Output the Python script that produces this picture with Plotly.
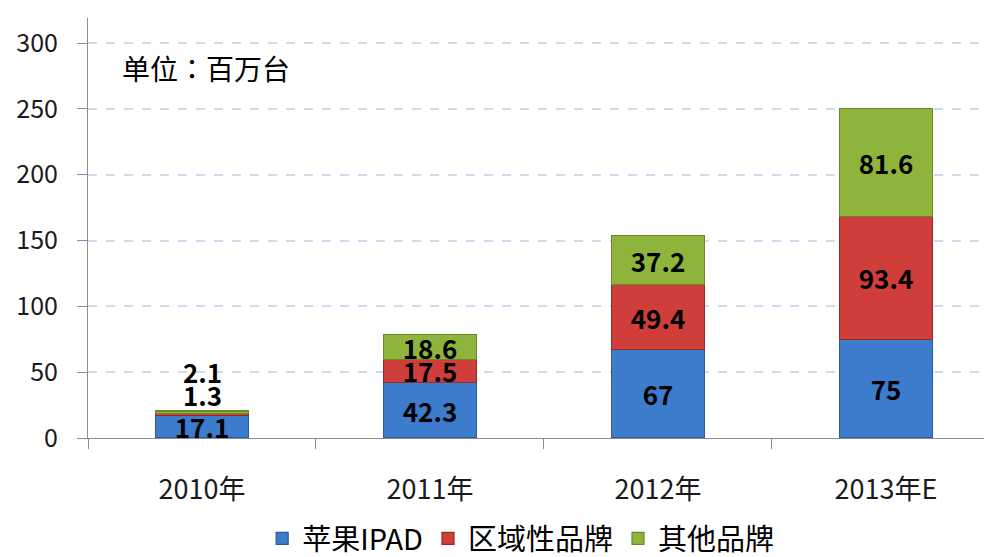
import plotly.graph_objects as go

categories = ["2010年", "2011年", "2012年", "2013年E"]
apple_ipad = [17.1, 42.3, 67, 75]
regional_brands = [1.3, 17.5, 49.4, 93.4]
other_brands = [2.1, 18.6, 37.2, 81.6]
series_names = ["苹果IPAD", "区域性品牌", "其他品牌"]
y_ticks = [0, 50, 100, 150, 200, 250, 300]

FONT = "Noto Sans CJK SC, Noto Sans, sans-serif"
fills = ["#3d7bcc", "#cf3e3a", "#8fb43c"]
edges = ["#2a5a98", "#922a27", "#6a8a2a"]
series = [apple_ipad, regional_brands, other_brands]

fig = go.Figure()
for i, (name, vals) in enumerate(zip(series_names, series)):
    texts = []
    for j, v in enumerate(vals):
        # small 2010 segments are labelled above the bar via annotations
        if j == 0 and i > 0:
            texts.append("")
        else:
            texts.append(f"{v:g}")
    fig.add_trace(go.Bar(
        name=name, x=categories, y=vals,
        width=0.41,
        marker=dict(color=fills[i], line=dict(color=edges[i], width=1.2)),
        text=texts, textposition="inside", insidetextanchor="middle",
        constraintext="none", textangle=0,
        textfont=dict(family=FONT, size=26, color="#000000", weight="bold"),
        hoverinfo="x+y+name",
    ))

total_2010 = apple_ipad[0] + regional_brands[0] + other_brands[0]
for v, shift in [(regional_brands[0], -4), (other_brands[0], 19)]:
    fig.add_annotation(
        x=categories[0], y=total_2010, xref="x", yref="y",
        text=f"<b>{v:g}</b>", showarrow=False, yanchor="bottom",
        yshift=shift,
        font=dict(family=FONT, size=26, color="#000000"),
    )

fig.add_annotation(
    x=0.035, y=0.881, xref="paper", yref="paper", xanchor="left", yanchor="middle",
    text="单位：百万台", showarrow=False,
    font=dict(family="Noto Sans CJK TC, Noto Sans CJK SC, sans-serif", size=28, color="#000000"),
)

# page body has an 8px default margin: figure is sized/offset to compensate
fig.update_layout(
    barmode="stack",
    width=984, height=549,
    margin=dict(l=80, r=0, t=10, b=119),
    paper_bgcolor="white", plot_bgcolor="white",
    showlegend=True,
    legend=dict(orientation="h", x=0.521, xanchor="center", xref="container",
                y=0.08, yanchor="top", yref="container",
                font=dict(family=FONT, size=29, color="#000000"), traceorder="normal"),
    xaxis=dict(
        range=[-0.5, 3.465], showline=True, linecolor="#8c8c8c", linewidth=1,
        ticks="outside", tickson="boundaries", ticklen=10, tickcolor="#8c8c8c",
        ticklabelstandoff=28, automargin=False,
        tickfont=dict(family=FONT, size=27, color="#1a1a1a"),
        showgrid=False,
    ),
    yaxis=dict(
        range=[0, 319], tickvals=y_ticks, showline=True, linecolor="#8c8c8c", linewidth=1,
        ticks="outside", ticklen=10, tickcolor="#8c8c8c", automargin=False,
        ticklabelstandoff=14,
        tickfont=dict(family=FONT, size=25, color="#1a1a1a"),
        showgrid=True, gridcolor="#cfd9f0", griddash="dash", gridwidth=1.5,
        zeroline=False,
    ),
)

fig.write_html("out.html")
